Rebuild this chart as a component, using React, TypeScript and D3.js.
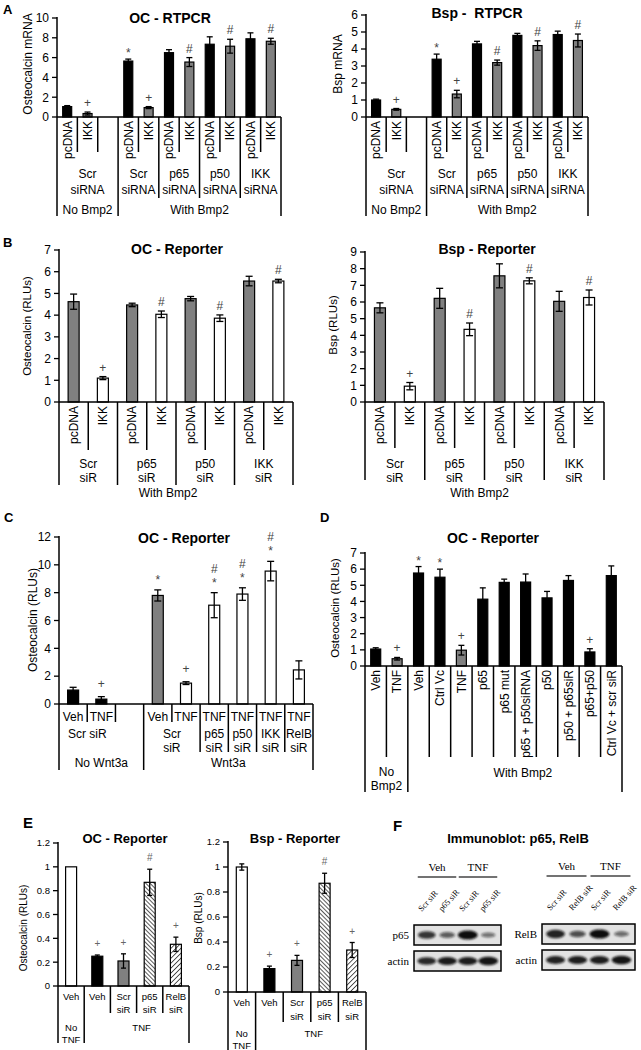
import React from "react";
import * as d3 from "d3";

const FONT = "Arial, 'Liberation Sans', Helvetica, sans-serif";
const NARROW = "'Liberation Sans Narrow', 'Arial Narrow', Arial, 'Liberation Sans', sans-serif";
const SERIF = "'Liberation Serif', 'Times New Roman', Times, serif";

const K = "#000000";
const G = "#808080";
const W = "#ffffff";

// ---------- Panel A ----------
const aCats = ["pcDNA", "IKK", "", "pcDNA", "IKK", "pcDNA", "IKK", "pcDNA", "IKK", "pcDNA", "IKK"];
const aFills = [K, G, W, K, G, K, G, K, G, K, G];
const aOcValues = [1.05, 0.35, null, 5.65, 0.95, 6.5, 5.55, 7.35, 7.15, 7.9, 7.65];
const aOcErrors = [0.1, 0.15, 0, 0.2, 0.1, 0.3, 0.45, 0.75, 0.7, 0.6, 0.3];
const aOcMarks = ["", "+", "", "*", "+", "", "#", "", "#", "", "#"];
const aBspValues = [1.0, 0.45, null, 3.4, 1.35, 4.3, 3.2, 4.8, 4.2, 4.85, 4.5];
const aBspErrors = [0.05, 0.05, 0, 0.3, 0.22, 0.15, 0.15, 0.12, 0.28, 0.2, 0.38];
const aBspMarks = ["", "+", "", "*", "+", "", "#", "", "#", "", "#"];
const aGroups = [["Scr", "siRNA"], ["Scr", "siRNA"], ["p65", "siRNA"], ["p50", "siRNA"], ["IKK", "siRNA"]];
const aTreat = ["No Bmp2", "With Bmp2"];

// ---------- Panel B ----------
const bCats = ["pcDNA", "IKK", "pcDNA", "IKK", "pcDNA", "IKK", "pcDNA", "IKK"];
const bFills = [G, W, G, W, G, W, G, W];
const bOcValues = [4.62, 1.1, 4.47, 4.04, 4.76, 3.86, 5.57, 5.57];
const bOcErrors = [0.35, 0.07, 0.08, 0.15, 0.1, 0.15, 0.22, 0.08];
const bOcMarks = ["", "+", "", "#", "", "#", "", "#"];
const bBspValues = [5.65, 0.95, 6.22, 4.36, 7.57, 7.27, 6.04, 6.27];
const bBspErrors = [0.3, 0.22, 0.6, 0.38, 0.72, 0.18, 0.6, 0.45];
const bBspMarks = ["", "+", "", "#", "", "#", "", "#"];
const bGroups = [["Scr", "siR"], ["p65", "siR"], ["p50", "siR"], ["IKK", "siR"]];
const bTreat = "With Bmp2";

// ---------- Panel C ----------
const cCats = ["Veh", "TNF", "", "Veh", "TNF", "TNF", "TNF", "TNF", "TNF"];
const cFills = [K, K, W, G, W, W, W, W, W];
const cValues = [1.0, 0.35, null, 7.8, 1.5, 7.1, 7.9, 9.55, 2.45];
const cErrors = [0.2, 0.18, 0, 0.4, 0.1, 0.9, 0.45, 0.7, 0.65];
const cMarks = ["", "+", "", "*", "+", "*#", "*#", "*#", ""];
const cGroups = [["Scr siR"], ["Scr", "siR"], ["p65", "siR"], ["p50", "siR"], ["IKK", "siR"], ["RelB", "siR"]];
const cTreat = ["No Wnt3a", "Wnt3a"];

// ---------- Panel D ----------
const dCats = ["Veh", "TNF", "Veh", "Ctrl Vc", "TNF", "p65", "p65 mut", "p65 + p50siRNA", "p50", "p50 + p65siR", "p65+p50", "Ctrl Vc + scr siR"];
const dFills = [K, G, K, K, G, K, K, K, K, K, K, K];
const dValues = [1.05, 0.45, 5.76, 5.5, 0.98, 4.14, 5.18, 5.2, 4.22, 5.3, 0.87, 5.6];
const dErrors = [0.08, 0.08, 0.4, 0.5, 0.3, 0.7, 0.2, 0.5, 0.4, 0.3, 0.2, 0.6];
const dMarks = ["", "+", "*", "*", "+", "", "", "", "", "", "+", ""];
const dTreat = [["No", "Bmp2"], ["With Bmp2"]];

// ---------- Panel E ----------
const eCats = ["Veh", "Veh", "Scr\nsiR", "p65\nsiR", "RelB\nsiR"];
const eFills = [W, K, G, "url(#hatchP65)", "url(#hatchRelB)"];
const eOcValues = [1.0, 0.25, 0.21, 0.87, 0.35];
const eOcErrors = [0.005, 0.01, 0.06, 0.11, 0.06];
const eBspValues = [1.0, 0.187, 0.253, 0.87, 0.336];
const eBspErrors = [0.025, 0.02, 0.04, 0.08, 0.06];
const eMarks = ["", "+", "+", "#", "+"];
const eTreat = [["No", "TNF"], ["TNF"]];

// ---------- Panel F ----------
const fLanesP65 = ["Scr siR", "p65 siR", "Scr siR", "p65 siR"];
const fLanesRelB = ["Scr siR", "RelB siR", "Scr siR", "RelB siR"];
const fP65Band = [0.72, 0.45, 1.0, 0.3];
const fP65Actin = [0.8, 0.9, 0.88, 0.95];
const fRelBBand = [0.85, 0.55, 1.0, 0.35];
const fRelBActin = [0.85, 0.88, 0.88, 0.95];
const fTreat = ["Veh", "TNF"];

type Sep = [number, number];
type Grp = { from: number; to: number; lines: string[]; y: number; dx?: number; lh?: number };
type Spec = {
  x0: number; x1: number; yZero: number; yTop: number; max: number; step: number;
  cats: string[]; values: (number | null)[]; errs: number[]; fills: string[]; marks: string[];
  barW: number; capW: number; rotated: boolean; labelY: number; labelLH: number;
  seps: Sep[]; groups: Grp[]; groupLH: number;
  title: string; titleX: number; titleY: number; titleSize: number;
  ylabel: string; ylabelX: number; ylabelY: number; ylabelSize: number;
  font: string; fs: number; tickFs: number;
  markGap: number; markStack: number; starDrop: number; markFs: number; markColor: string;
};

function BarPanel({ s }: { s: Spec }) {
  const n = s.cats.length;
  const x = d3.scaleBand<number>().domain(d3.range(n)).range([s.x0, s.x1]).padding(0);
  const y = d3.scaleLinear().domain([0, s.max]).range([s.yZero, s.yTop]);
  const bw = x.bandwidth();
  const cx = (i: number) => (x(i) as number) + bw / 2;
  const edge = (k: number) => s.x0 + k * bw;
  const ticks = d3.range(0, s.max + s.step / 2, s.step).map((v) => +v.toFixed(2));
  return (
    <g fontFamily={s.font}>
      <text x={s.titleX} y={s.titleY} textAnchor="middle" fontWeight="bold" fontSize={s.titleSize} fontFamily={FONT} style={{ whiteSpace: "pre" }}>{s.title}</text>
      <text transform={`translate(${s.ylabelX},${s.ylabelY}) rotate(-90)`} textAnchor="middle" dominantBaseline="central" fontSize={s.ylabelSize}>{s.ylabel}</text>
      {ticks.map((t) => (
        <g key={"t" + t}>
          <line x1={s.x0 - 5} x2={s.x0} y1={y(t)} y2={y(t)} stroke="#000" strokeWidth={1.3} />
          <text x={s.x0 - 8} y={y(t)} dy="0.36em" textAnchor="end" fontSize={s.tickFs}>{String(t)}</text>
        </g>
      ))}
      {s.values.map((v, i) => {
        if (v == null) return null;
        const e = s.errs[i];
        const c = cx(i);
        const top = y(v + e);
        const chars = s.marks[i].split("");
        return (
          <g key={"b" + i}>
            <rect x={c - s.barW / 2} y={y(v)} width={s.barW} height={s.yZero - y(v)} fill={s.fills[i]} stroke="#000" strokeWidth={1.2} />
            {e > 0.009 && (
              <g stroke="#000" strokeWidth={1.3}>
                <line x1={c} x2={c} y1={y(v - e)} y2={top} />
                <line x1={c - s.capW / 2} x2={c + s.capW / 2} y1={top} y2={top} />
                <line x1={c - s.capW / 2} x2={c + s.capW / 2} y1={y(v - e)} y2={y(v - e)} />
              </g>
            )}
            {chars.map((ch, j) => (
              <text key={j} x={c} y={top - s.markGap - j * s.markStack + (ch === "*" ? s.starDrop : 0)} textAnchor="middle" fontSize={s.markFs} fill={s.markColor} fontFamily={FONT}>{ch}</text>
            ))}
          </g>
        );
      })}
      <line x1={s.x0} x2={s.x0} y1={s.yTop - 1} y2={s.yZero} stroke="#000" strokeWidth={1.5} />
      <line x1={s.x0} x2={s.x1} y1={s.yZero} y2={s.yZero} stroke="#000" strokeWidth={1.5} />
      {s.seps.map(([k, to]) => (
        <line key={"s" + k} x1={edge(k)} x2={edge(k)} y1={s.yZero} y2={to} stroke="#000" strokeWidth={1.5} />
      ))}
      {s.cats.map((c, i) => {
        if (!c) return null;
        if (s.rotated) {
          return (
            <text key={"c" + i} transform={`translate(${cx(i) + s.fs * 0.36},${s.yZero + 4}) rotate(-90)`} textAnchor="end" fontSize={s.fs}>{c}</text>
          );
        }
        return c.split("\n").map((ln, j) => (
          <text key={"c" + i + "_" + j} x={cx(i)} y={s.labelY + j * s.labelLH} textAnchor="middle" fontSize={s.fs}>{ln}</text>
        ));
      })}
      {s.groups.map((g, gi) => {
        const mid = (edge(g.from) + edge(g.to + 1)) / 2 + (g.dx || 0);
        return g.lines.map((ln, j) => (
          <text key={"g" + gi + "_" + j} x={mid} y={g.y + j * (g.lh || s.groupLH)} textAnchor="middle" fontSize={s.fs}>{ln}</text>
        ));
      })}
    </g>
  );
}

const baseStd = {
  font: FONT, fs: 12, tickFs: 12, titleSize: 14, ylabelSize: 12,
  markGap: 5, markStack: 11, starDrop: 3, markFs: 12, markColor: "#444",
};

function sepsA(shortY: number, midY: number, longY: number): Sep[] {
  return [[0, longY], [1, shortY], [2, shortY], [3, longY], [4, shortY], [5, midY], [6, shortY], [7, midY], [8, shortY], [9, midY], [10, shortY], [11, longY]];
}
function groupsA(): Grp[] {
  return [
    { from: 0, to: 2, lines: aGroups[0], y: 178 },
    { from: 3, to: 4, lines: aGroups[1], y: 178 },
    { from: 5, to: 6, lines: aGroups[2], y: 178 },
    { from: 7, to: 8, lines: aGroups[3], y: 178 },
    { from: 9, to: 10, lines: aGroups[4], y: 178 },
    { from: 0, to: 2, lines: [aTreat[0]], y: 214 },
    { from: 3, to: 10, lines: [aTreat[1]], y: 214 },
  ];
}

const specAOc: Spec = {
  ...baseStd, x0: 57, x1: 281, yZero: 117, yTop: 18, max: 10, step: 2,
  cats: aCats, values: aOcValues, errs: aOcErrors, fills: aFills, marks: aOcMarks,
  barW: 9, capW: 6, rotated: true, labelY: 0, labelLH: 0,
  seps: sepsA(152, 198, 216), groups: groupsA(), groupLH: 16,
  title: "OC - RTPCR", titleX: 170, titleY: 23,
  ylabel: "Osteocalcin mRNA", ylabelX: 28, ylabelY: 64,
};
const specABsp: Spec = {
  ...baseStd, x0: 366, x1: 588, yZero: 117, yTop: 15, max: 6, step: 1,
  cats: aCats, values: aBspValues, errs: aBspErrors, fills: aFills, marks: aBspMarks,
  barW: 9, capW: 6, rotated: true, labelY: 0, labelLH: 0,
  seps: sepsA(152, 198, 216), groups: groupsA(), groupLH: 16,
  title: "Bsp -  RTPCR", titleX: 477, titleY: 18,
  ylabel: "Bsp mRNA", ylabelX: 338, ylabelY: 64,
};

function sepsB(shortY: number, longY: number): Sep[] {
  return d3.range(9).map((k) => [k, k % 2 === 0 ? longY : shortY] as Sep);
}
function groupsB(treatDx: number): Grp[] {
  return [
    ...bGroups.map((g, i) => ({ from: i * 2, to: i * 2 + 1, lines: g, y: 468 })),
    { from: 0, to: 7, lines: [bTreat], y: 497, dx: treatDx },
  ];
}
const specBOc: Spec = {
  ...baseStd, x0: 59, x1: 293, yZero: 402, yTop: 250, max: 7, step: 1,
  cats: bCats, values: bOcValues, errs: bOcErrors, fills: bFills, marks: bOcMarks,
  barW: 11, capW: 7, rotated: true, labelY: 0, labelLH: 0,
  seps: sepsB(450, 485), groups: groupsB(-8), groupLH: 14,
  title: "OC - Reporter", titleX: 177, titleY: 254,
  ylabel: "Osteocalcin (RLUs)", ylabelX: 27, ylabelY: 326, ylabelSize: 11.5,
};
const specBBsp: Spec = {
  ...baseStd, x0: 365, x1: 604, yZero: 402, yTop: 252, max: 9, step: 1,
  cats: bCats, values: bBspValues, errs: bBspErrors, fills: bFills, marks: bBspMarks,
  barW: 11, capW: 7, rotated: true, labelY: 0, labelLH: 0,
  seps: sepsB(448, 480), groups: groupsB(-5), groupLH: 14,
  title: "Bsp - Reporter", titleX: 487, titleY: 254,
  ylabel: "Bsp (RLUs)", ylabelX: 333, ylabelY: 325, ylabelSize: 11.5,
};

const specC: Spec = {
  ...baseStd, x0: 59, x1: 313, yZero: 704, yTop: 537, max: 12, step: 2,
  cats: cCats, values: cValues, errs: cErrors, fills: cFills, marks: cMarks,
  barW: 11, capW: 7, rotated: false, labelY: 721, labelLH: 14,
  seps: [[0, 770], [1, 722], [2, 722], [3, 770], [4, 722], [5, 752], [6, 752], [7, 752], [8, 752], [9, 770]],
  groups: [
    { from: 0, to: 1, lines: cGroups[0], y: 738 },
    { from: 3, to: 4, lines: cGroups[1], y: 738 },
    { from: 5, to: 5, lines: cGroups[2], y: 738 },
    { from: 6, to: 6, lines: cGroups[3], y: 738 },
    { from: 7, to: 7, lines: cGroups[4], y: 738 },
    { from: 8, to: 8, lines: cGroups[5], y: 738 },
    { from: 0, to: 2, lines: [cTreat[0]], y: 767 },
    { from: 3, to: 8, lines: [cTreat[1]], y: 767 },
  ],
  groupLH: 14,
  title: "OC - Reporter", titleX: 184, titleY: 543,
  ylabel: "Osteocalcin (RLUs)", ylabelX: 33, ylabelY: 620,
  markGap: 9,
};

const specD: Spec = {
  ...baseStd, x0: 365, x1: 622, yZero: 666, yTop: 553, max: 7, step: 1,
  cats: dCats, values: dValues, errs: dErrors, fills: dFills, marks: dMarks,
  barW: 10, capW: 6, rotated: true, labelY: 0, labelLH: 0,
  seps: d3.range(13).map((k) => [k, k === 0 || k === 2 || k === 12 ? 792 : 757] as Sep),
  groups: [
    { from: 0, to: 1, lines: dTreat[0], y: 776 },
    { from: 2, to: 11, lines: dTreat[1], y: 777, dx: 8 },
  ],
  groupLH: 14,
  title: "OC - Reporter", titleX: 493, titleY: 543,
  ylabel: "Osteocalcin (RLUs)", ylabelX: 335, ylabelY: 608, ylabelSize: 11.5,
};

const baseE = {
  font: NARROW, fs: 9.5, tickFs: 9.5, titleSize: 13, ylabelSize: 10,
  markGap: 8, markStack: 10, starDrop: 2, markFs: 10, markColor: "#666",
};
const specEOc: Spec = {
  ...baseE, x0: 58, x1: 189, yZero: 986, yTop: 843, max: 1.2, step: 0.2,
  cats: eCats, values: eOcValues, errs: eOcErrors, fills: eFills, marks: eMarks,
  barW: 11, capW: 5, rotated: false, labelY: 1000, labelLH: 13,
  seps: [[0, 1043], [1, 1043], [2, 1013], [3, 1013], [4, 1013], [5, 1043]],
  groups: [
    { from: 0, to: 0, lines: eTreat[0], y: 1031 },
    { from: 1, to: 4, lines: eTreat[1], y: 1031, dx: 5 },
  ],
  groupLH: 12,
  title: "OC - Reporter", titleX: 125, titleY: 843,
  ylabel: "Osteocalcin (RLUs)", ylabelX: 23, ylabelY: 928,
};
const specEBsp: Spec = {
  ...baseE, x0: 228, x1: 366, yZero: 992, yTop: 842, max: 1.2, step: 0.2,
  cats: eCats, values: eBspValues, errs: eBspErrors, fills: eFills, marks: eMarks,
  barW: 11, capW: 5, rotated: false, labelY: 1006, labelLH: 14,
  seps: [[0, 1050], [1, 1050], [2, 1022], [3, 1022], [4, 1022], [5, 1050]],
  groups: [
    { from: 0, to: 0, lines: eTreat[0], y: 1037 },
    { from: 1, to: 4, lines: eTreat[1], y: 1037, dx: 3 },
  ],
  groupLH: 12,
  title: "Bsp - Reporter", titleX: 295, titleY: 843,
  ylabel: "Bsp (RLUs)", ylabelX: 198, ylabelY: 918,
};

function Blot({ x0, x1, lanes, target, targetBand, actinBand, boxTop }: {
  x0: number; x1: number; lanes: string[]; target: string; targetBand: number[]; actinBand: number[]; boxTop: number;
}) {
  const x = d3.scaleBand<number>().domain(d3.range(lanes.length)).range([x0 + 2, x1 - 2]).padding(0.05);
  const cx = (i: number) => (x(i) as number) + x.bandwidth() / 2;
  const h1 = 20, h2 = 20, gap = 6;
  const t2 = boxTop + h1 + gap;
  const half = (lanes.length / 2);
  return (
    <g fontFamily={SERIF}>
      {fTreat.map((t, k) => {
        const a = cx(k * half) - 9;
        const b = cx(k * half + half - 1) + 9;
        return (
          <g key={t}>
            <text x={(a + b) / 2} y={boxTop - 54} textAnchor="middle" fontSize={11}>{t}</text>
            <line x1={a} x2={b} y1={boxTop - 48} y2={boxTop - 48} stroke="#444" strokeWidth={1.3} />
          </g>
        );
      })}
      {lanes.map((l, i) => (
        <text key={"l" + i} transform={`translate(${cx(i) - 5},${boxTop - 13}) rotate(-48)`} fontSize={8.5}>{l}</text>
      ))}
      <rect x={x0} y={boxTop} width={x1 - x0} height={h1} fill="#e2e2e2" stroke="#000" strokeWidth={1.5} />
      <rect x={x0} y={t2} width={x1 - x0} height={h2} fill="#e2e2e2" stroke="#000" strokeWidth={1.5} />
      <text x={x0 - 5} y={boxTop + h1 / 2} dy="0.35em" textAnchor="end" fontSize={11}>{target}</text>
      <text x={x0 - 5} y={t2 + h2 / 2} dy="0.35em" textAnchor="end" fontSize={11}>actin</text>
      <g filter="url(#blur)">
        {targetBand.map((v, i) => (
          <ellipse key={"tb" + i} cx={cx(i)} cy={boxTop + h1 / 2} rx={6 + 4 * v} ry={1.6 + 3 * v} fill="#111" opacity={0.35 + 0.65 * v} />
        ))}
        {actinBand.map((v, i) => (
          <ellipse key={"ab" + i} cx={cx(i)} cy={t2 + h2 / 2} rx={7 + 3 * v} ry={1.8 + 2.5 * v} fill="#111" opacity={0.4 + 0.6 * v} />
        ))}
      </g>
    </g>
  );
}

export default function App() {
  return (
    <svg width={641} height={1050} style={{ position: "absolute", left: 0, top: 0, display: "block", background: "#fff" }} fontFamily={FONT}>
      <defs>
        <pattern id="hatchP65" width={3} height={3} patternUnits="userSpaceOnUse" patternTransform="rotate(-45)">
          <rect width={3} height={3} fill="#fff" />
          <line x1={0} y1={0} x2={0} y2={3} stroke="#000" strokeWidth={1.3} />
        </pattern>
        <pattern id="hatchRelB" width={3.5} height={3.5} patternUnits="userSpaceOnUse" patternTransform="rotate(45)">
          <rect width={3.5} height={3.5} fill="#fff" />
          <line x1={0} y1={0} x2={0} y2={3.5} stroke="#000" strokeWidth={1.3} />
        </pattern>
        <filter id="blur" x="-20%" y="-50%" width="140%" height="200%">
          <feGaussianBlur stdDeviation={1.2} />
        </filter>
      </defs>
      <rect width={641} height={1050} fill="#fff" />
      <g fontWeight="bold" fontFamily={FONT}>
        <text x={3} y={13.5} fontSize={13}>A</text>
        <text x={3} y={247} fontSize={13}>B</text>
        <text x={4} y={522} fontSize={13}>C</text>
        <text x={320} y={522} fontSize={13}>D</text>
        <text x={23} y={828} fontSize={15}>E</text>
        <text x={393} y={831} fontSize={15}>F</text>
      </g>
      <BarPanel s={specAOc} />
      <BarPanel s={specABsp} />
      <BarPanel s={specBOc} />
      <BarPanel s={specBBsp} />
      <BarPanel s={specC} />
      <BarPanel s={specD} />
      <BarPanel s={specEOc} />
      <BarPanel s={specEBsp} />
      <text x={518} y={843} textAnchor="middle" fontWeight="bold" fontSize={13}>Immunoblot: p65, RelB</text>
      <Blot x0={414} x1={501} lanes={fLanesP65} target="p65" targetBand={fP65Band} actinBand={fP65Actin} boxTop={925} />
      <Blot x0={542} x1={635} lanes={fLanesRelB} target="RelB" targetBand={fRelBBand} actinBand={fRelBActin} boxTop={924} />
    </svg>
  );
}
